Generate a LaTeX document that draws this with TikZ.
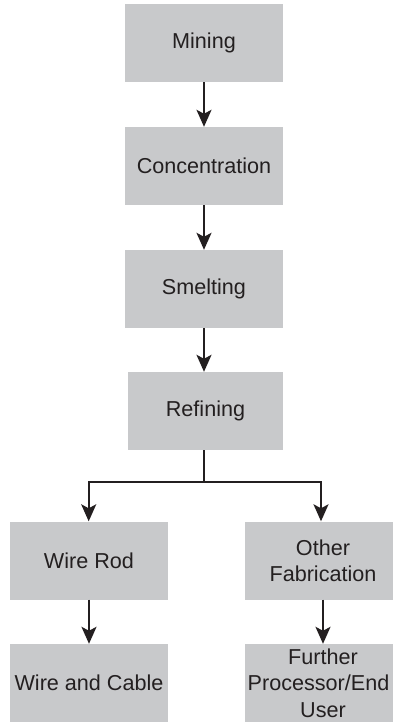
\documentclass[tikz,border=0pt]{standalone}
\usepackage{fontspec}
\setmainfont{Liberation Sans}
\usetikzlibrary{arrows.meta}
\definecolor{boxgray}{RGB}{200,201,203}
\definecolor{ink}{RGB}{35,31,32}
\begin{document}
\begin{tikzpicture}[x=1pt,y=-1pt,
  box/.style={rectangle, fill=boxgray, draw=none, inner sep=0pt, minimum height=78pt,
    text=ink, align=center, font=\fontsize{21.6}{26.4}\selectfont},
  arr/.style={draw=ink, line width=2pt, -{Stealth[length=17pt,width=15pt,inset=4pt]}},
  ln/.style={draw=ink, line width=2pt}]
\useasboundingbox (0,0) rectangle (392,722);
\node[box, minimum width=158pt] (mining) at (204,43) {Mining};
\node[box, minimum width=158pt] (conc) at (204,166) {Concentration};
\node[box, minimum width=158pt] (smelt) at (204,289) {Smelting};
\node[box, minimum width=155pt] (refin) at (205.5,411) {Refining};
\node[box, minimum width=158pt] (wirerod) at (89,560.5) {Wire Rod};
\node[box, minimum width=156pt] (otherfab) at (323,560.5) {Other\\Fabrication};
\node[box, minimum width=158pt] (wirecable) at (89,683) {Wire and Cable};
\node[box, minimum width=156pt] (further) at (323,683) {Further\\\hspace*{-9pt}Processor/End\\User};
\coordinate (split) at (204,481.5);
\coordinate (rtop) at (321,481.5);
\coordinate (ltop) at (88.7,481.5);
\draw[arr] (mining) -- (conc);
\draw[arr] (conc) -- (smelt);
\draw[arr] (smelt.south) -- (smelt.south |- refin.north);
\draw[ln] (refin.south -| smelt.south) -- (split);
\draw[ln, line cap=rect] (ltop) -- (rtop);
\draw[arr] (ltop) -- (ltop |- wirerod.north);
\draw[arr] (rtop) -- (rtop |- otherfab.north);
\draw[arr] (wirerod) -- (wirecable);
\draw[arr] (otherfab) -- (further);
\end{tikzpicture}
\end{document}
